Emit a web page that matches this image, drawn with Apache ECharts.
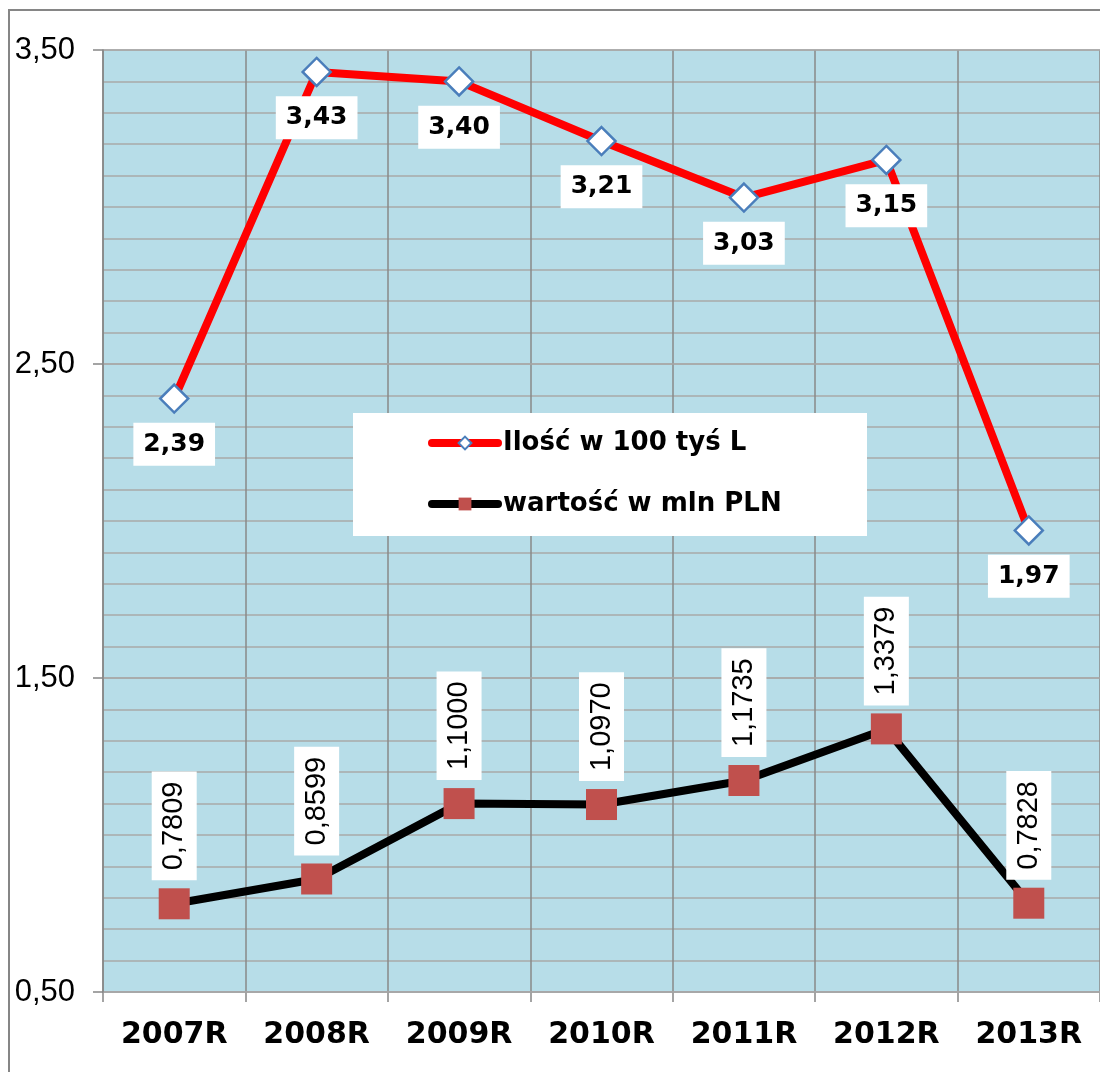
<!DOCTYPE html>
<html>
<head>
<meta charset="utf-8">
<script src="https://cdn.jsdelivr.net/npm/echarts@6/dist/echarts.min.js"></script>
<style>
  html, body { margin: 0; padding: 0; background: #ffffff; }
  #chart { width: 1100px; height: 1072px; }
</style>
</head>
<body>
<div id="chart"></div>
<script>
const categories = ['2007R', '2008R', '2009R', '2010R', '2011R', '2012R', '2013R'];
const iloscName = 'Ilość w 100 tyś L';
const wartoscName = 'wartość w mln PLN';
const iloscValues = [2.39, 3.43, 3.40, 3.21, 3.03, 3.15, 1.97];
const wartoscValues = [0.7809, 0.8599, 1.1000, 1.0970, 1.1735, 1.3379, 0.7828];
const yTickValues = [0.5, 1.5, 2.5, 3.5];
const yMin = 0.5;
const yMax = 3.5;
const yMinorStep = 0.1;

function fmtComma(v, d) { return Number(v).toFixed(d).replace('.', ','); }

const chart = echarts.init(document.getElementById('chart'), null, { renderer: 'canvas' });

const option = {
  animation: false,
  backgroundColor: '#ffffff',
  grid: {
    left: 103, top: 50, right: 0, bottom: 80,
    show: true, backgroundColor: '#B7DDE8', borderWidth: 0
  },
  graphic: [
    {
      type: 'rect', z: 100, silent: true,
      shape: { x: 9, y: 10, width: 1110, height: 1090 },
      style: { fill: 'none', stroke: '#868686', lineWidth: 2 }
    },
    {
      type: 'rect', z: 3, silent: true,
      shape: { x: 353, y: 413, width: 514, height: 123 },
      style: { fill: '#ffffff', stroke: 'none' }
    }
  ],
  legend: {
    orient: 'vertical',
    left: 428, top: 428,
    padding: 0,
    itemGap: 31,
    itemWidth: 66,
    itemHeight: 16,
    lineStyle: { width: 8, cap: 'round' },
    textStyle: {
      fontFamily: 'DejaVu Sans', fontWeight: 'bold', fontSize: 26,
      color: '#000000', lineHeight: 30
    },
    data: [iloscName, wartoscName]
  },
  xAxis: {
    type: 'category',
    data: categories,
    boundaryGap: true,
    axisLine: { show: true, lineStyle: { color: '#a0a0a0', width: 1.5 } },
    axisTick: { show: true, length: 10, lineStyle: { color: '#868686', width: 1.5 } },
    axisLabel: {
      fontFamily: 'DejaVu Sans', fontWeight: 'bold', fontSize: 30,
      color: '#000000', margin: 28
    },
    splitLine: { show: true, lineStyle: { color: '#888888', width: 1.5 } }
  },
  yAxis: [
    {
      type: 'value',
      min: yMin, max: yMax, interval: yMinorStep,
      z: 1,
      axisLine: { show: true, lineStyle: { color: '#868686', width: 1.5 } },
      axisTick: { show: true, length: 10, customValues: yTickValues, lineStyle: { color: '#868686', width: 1.5 } },
      axisLabel: {
        customValues: yTickValues,
        fontFamily: 'Liberation Sans', fontSize: 31, color: '#000000', margin: 28,
        formatter: v => fmtComma(v, 2)
      },
      splitLine: { show: true, lineStyle: { color: '#a8a8a8', width: 1.5 } }
    },
    {
      type: 'value',
      position: 'left',
      min: yMin, max: yMax, interval: yMinorStep,
      z: 0,
      axisLine: { show: false },
      axisTick: { show: false },
      axisLabel: { show: false },
      splitLine: { show: true, lineStyle: { color: '#a8a8a8', width: 1.5 } }
    }
  ],
  series: [
    {
      name: iloscName,
      type: 'line',
      yAxisIndex: 0,
      data: iloscValues,
      z: 5,
      lineStyle: { color: '#FF0000', width: 8, cap: 'round', join: 'round' },
      itemStyle: { color: '#ffffff', borderColor: '#4A7EBB', borderWidth: 2.5 },
      symbol: 'diamond',
      symbolSize: 28,
      label: {
        show: true,
        position: 'bottom',
        distance: 9,
        formatter: p => fmtComma(p.value, 2),
        fontFamily: 'DejaVu Sans', fontWeight: 'bold', fontSize: 25,
        lineHeight: 25, color: '#000000',
        backgroundColor: '#ffffff', padding: [9, 10]
      }
    },
    {
      name: wartoscName,
      type: 'line',
      yAxisIndex: 0,
      data: wartoscValues,
      z: 5,
      lineStyle: { color: '#000000', width: 8, cap: 'round', join: 'round' },
      itemStyle: { color: '#C0504D' },
      symbol: 'rect',
      symbolSize: 31,
      label: {
        show: true,
        position: 'top',
        distance: 8,
        rotate: 90,
        align: 'left',
        verticalAlign: 'middle',
        formatter: p => fmtComma(p.value, 4),
        fontFamily: 'Liberation Sans', fontSize: 29,
        lineHeight: 29, color: '#000000',
        backgroundColor: '#ffffff', padding: [8, 10]
      }
    }
  ]
};

chart.setOption(option);
</script>
</body>
</html>
